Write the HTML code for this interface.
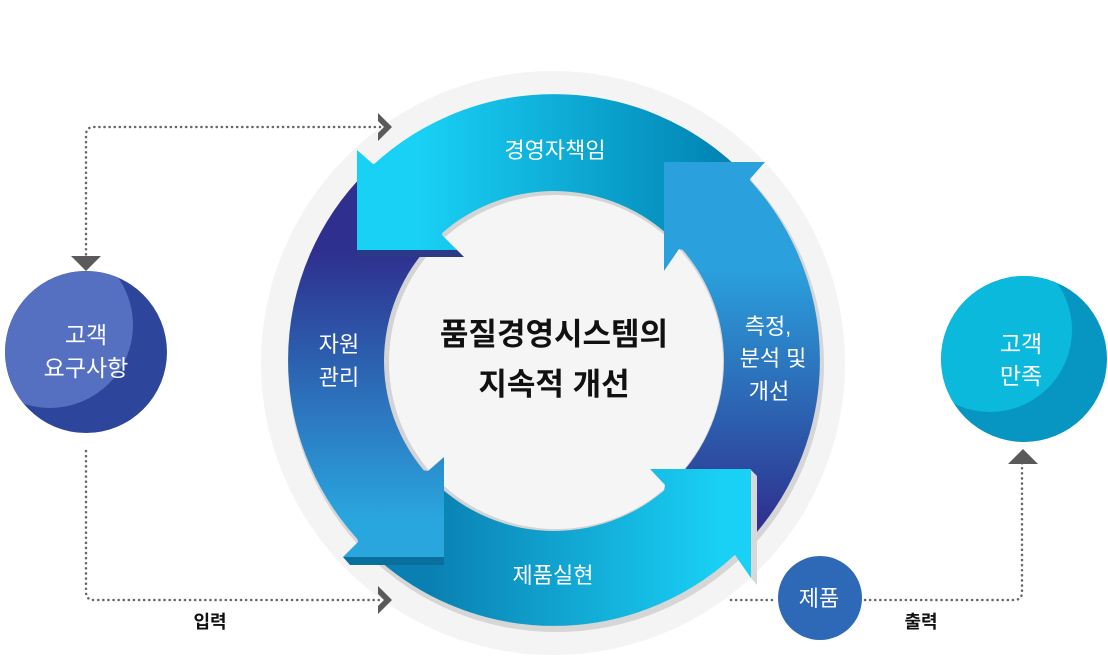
<!DOCTYPE html>
<html><head><meta charset="utf-8"><style>
html,body{margin:0;padding:0;background:#fff;}
svg{display:block;}
text{font-family:"Liberation Sans","Noto Sans CJK KR",sans-serif;}
</style></head><body>
<svg width="1108" height="660" viewBox="0 0 1108 660" xmlns="http://www.w3.org/2000/svg">
<defs>
<linearGradient id="gTop" gradientUnits="userSpaceOnUse" x1="420" y1="0" x2="740" y2="0"><stop offset="0" stop-color="#19d0f5"/><stop offset="1" stop-color="#0080b0"/></linearGradient>
<linearGradient id="gRight" gradientUnits="userSpaceOnUse" x1="0" y1="270" x2="0" y2="525"><stop offset="0" stop-color="#2aa0dc"/><stop offset="1" stop-color="#2e318f"/></linearGradient>
<linearGradient id="gBot" gradientUnits="userSpaceOnUse" x1="430" y1="0" x2="720" y2="0"><stop offset="0" stop-color="#0a80b2"/><stop offset="1" stop-color="#19d0f5"/></linearGradient>
<linearGradient id="gLeft" gradientUnits="userSpaceOnUse" x1="0" y1="250" x2="0" y2="520"><stop offset="0" stop-color="#2e2f8e"/><stop offset="1" stop-color="#2aa6df"/></linearGradient>
<clipPath id="c1"><circle cx="86" cy="352" r="81"/></clipPath>
<clipPath id="c2"><circle cx="1024" cy="359" r="83"/></clipPath>
</defs>

<circle cx="553" cy="363" r="292" fill="#f4f4f4"/>
<circle cx="556" cy="364" r="268" fill="#d6d6d6"/>

<g fill="none" stroke-width="98">
<path d="M 400.6 206.6 A 217 217 0 0 1 707.4 206.6" stroke="url(#gTop)"/>
<path d="M 707.4 206.6 A 217 217 0 0 1 707.4 513.4" stroke="url(#gRight)"/>
<path d="M 707.4 513.4 A 217 217 0 0 1 400.6 513.4" stroke="url(#gBot)"/>
<path d="M 400.6 513.4 A 217 217 0 0 1 400.6 206.6" stroke="url(#gLeft)"/>
</g>
<circle cx="554" cy="361" r="170" fill="#d4d4d4"/>
<circle cx="556" cy="362" r="167" fill="#f5f5f5"/>

<polygon points="357,250 457,250 464,257 357,257" fill="#2a3a86"/>
<polygon points="343,557 444,557 444,565 350,565" fill="#0a6f9c"/>
<polygon points="751,578 751,470 757,476 757,585" fill="#d8d8d8"/>

<polygon points="357,250 357,150 373,164 457,150 442,235 457,250" fill="url(#gTop)"/>
<polygon points="664,162 765,162 750,179 765,271 679,249 664,271" fill="url(#gRight)"/>
<polygon points="751,469 650,469 665,485 650,578 735,555 751,578" fill="url(#gBot)"/>
<polygon points="444,557 444,457 428,471 343,457 358,542 343,557" fill="url(#gLeft)"/>

<g fill="#fff" font-size="22" text-anchor="middle">
<text x="555" y="158">경영자책임</text>
<text x="339" y="352">자원</text>
<text x="339" y="385">관리</text>
<text x="768" y="334">측정,</text>
<text x="773" y="366">분석 및</text>
<text x="769" y="399">개선</text>
<text x="553" y="583">제품실현</text>
</g>
<g fill="#111" font-size="31" font-weight="bold" text-anchor="middle">
<text x="554" y="345">품질경영시스템의</text>
<text x="554" y="395">지속적 개선</text>
</g>

<circle cx="86" cy="352" r="81" fill="#2d469c"/>
<circle cx="50" cy="325" r="83" fill="#556fc1" clip-path="url(#c1)"/>
<g fill="#fff" font-size="23" text-anchor="middle">
<text x="86" y="343">고객</text>
<text x="86" y="376">요구사항</text>
</g>

<circle cx="1024" cy="359" r="83" fill="#0795c2"/>
<circle cx="990" cy="330" r="82" fill="#0bb9dd" clip-path="url(#c2)"/>
<g fill="#fff" font-size="23" text-anchor="middle">
<text x="1021" y="352">고객</text>
<text x="1021" y="384">만족</text>
</g>

<circle cx="820" cy="598" r="42" fill="#2d69b7"/>
<text x="819" y="606" fill="#fff" font-size="22" text-anchor="middle">제품</text>

<g fill="none" stroke="#666" stroke-width="2.5" stroke-dasharray="0.1 5" stroke-linecap="round">
<path d="M 380 127 L 94 127 Q 86 127 86 135 L 86 258"/>
<path d="M 86 451 L 86 592 Q 86 600 94 600 L 380 600"/>
<path d="M 731 600 L 776 600"/>
<path d="M 865 600 L 1014 600 Q 1022 600 1022 592 L 1022 460"/>
</g>
<g fill="#5a5a5a">
<polygon points="378,113 392,127 378,141 378,133 384,127 378,121"/>
<polygon points="378,586 392,600 378,614 378,606 384,600 378,594"/>
<polygon points="71,256 101,256 86,271"/>
<polygon points="1008,464 1038,464 1023,449"/>
</g>
<g fill="#111" font-size="18" font-weight="bold" text-anchor="middle">
<text x="210" y="628">입력</text>
<text x="921" y="628">출력</text>
</g>
</svg>
</body></html>
